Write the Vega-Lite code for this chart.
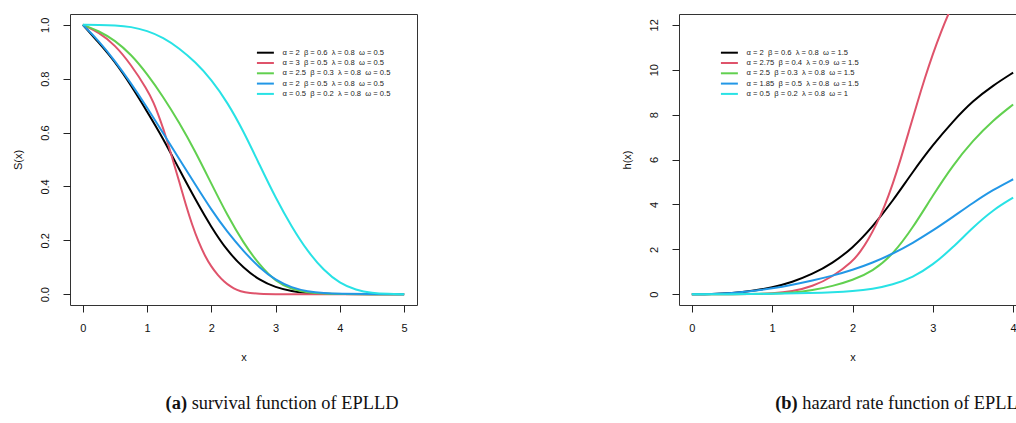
{
  "$schema": "https://vega.github.io/schema/vega-lite/v6.json",
  "background": "white",
  "padding": {"left": 11, "top": 13, "right": 0, "bottom": 0},
  "spacing": 202,
  "config": {
    "view": {"stroke": "#333333", "strokeWidth": 1},
    "axis": {
      "domain": false, "grid": false, "ticks": true, "tickColor": "#222222", "tickSize": 7, "tickWidth": 1,
      "labelFont": "Liberation Sans", "labelFontSize": 11, "labelColor": "#111111",
      "titleFont": "Liberation Sans", "titleFontSize": 11, "titleFontWeight": "normal", "titleColor": "#111111"
    },
    "axisX": {"labelPadding": 10, "titlePadding": 18},
    "axisY": {"labelAngle": -90, "labelAlign": "center", "labelBaseline": "bottom", "labelPadding": 13, "titlePadding": 16},
    "legend": {
      "orient": "none", "title": null, "symbolType": "M-3,0H3", "symbolSize": 32, "symbolStrokeWidth": 2,
      "labelFont": "Liberation Sans", "labelFontSize": 7.6, "labelColor": "#222222", "labelOffset": 13,
      "rowPadding": 2.3, "padding": 0, "labelLimit": 400
    },
    "text": {"font": "Liberation Serif", "fontSize": 18.4, "color": "#111111"}
  },
  "resolve": {"scale": {"color": "independent"}},
  "hconcat": [
    {
      "width": 347, "height": 291,
      "layer": [
        {
          "data": {"values": [
            {"s": "α = 2\u00a0\u00a0β = 0.6\u00a0\u00a0λ = 0.8\u00a0\u00a0ω = 0.5", "x": 0, "S": 1},
            {"s": "α = 2\u00a0\u00a0β = 0.6\u00a0\u00a0λ = 0.8\u00a0\u00a0ω = 0.5", "x": 0.25, "S": 0.933},
            {"s": "α = 2\u00a0\u00a0β = 0.6\u00a0\u00a0λ = 0.8\u00a0\u00a0ω = 0.5", "x": 0.5, "S": 0.863},
            {"s": "α = 2\u00a0\u00a0β = 0.6\u00a0\u00a0λ = 0.8\u00a0\u00a0ω = 0.5", "x": 0.75, "S": 0.775},
            {"s": "α = 2\u00a0\u00a0β = 0.6\u00a0\u00a0λ = 0.8\u00a0\u00a0ω = 0.5", "x": 1, "S": 0.678},
            {"s": "α = 2\u00a0\u00a0β = 0.6\u00a0\u00a0λ = 0.8\u00a0\u00a0ω = 0.5", "x": 1.25, "S": 0.578},
            {"s": "α = 2\u00a0\u00a0β = 0.6\u00a0\u00a0λ = 0.8\u00a0\u00a0ω = 0.5", "x": 1.5, "S": 0.463},
            {"s": "α = 2\u00a0\u00a0β = 0.6\u00a0\u00a0λ = 0.8\u00a0\u00a0ω = 0.5", "x": 1.75, "S": 0.352},
            {"s": "α = 2\u00a0\u00a0β = 0.6\u00a0\u00a0λ = 0.8\u00a0\u00a0ω = 0.5", "x": 2, "S": 0.248},
            {"s": "α = 2\u00a0\u00a0β = 0.6\u00a0\u00a0λ = 0.8\u00a0\u00a0ω = 0.5", "x": 2.25, "S": 0.16},
            {"s": "α = 2\u00a0\u00a0β = 0.6\u00a0\u00a0λ = 0.8\u00a0\u00a0ω = 0.5", "x": 2.5, "S": 0.097},
            {"s": "α = 2\u00a0\u00a0β = 0.6\u00a0\u00a0λ = 0.8\u00a0\u00a0ω = 0.5", "x": 2.75, "S": 0.052},
            {"s": "α = 2\u00a0\u00a0β = 0.6\u00a0\u00a0λ = 0.8\u00a0\u00a0ω = 0.5", "x": 3, "S": 0.025},
            {"s": "α = 2\u00a0\u00a0β = 0.6\u00a0\u00a0λ = 0.8\u00a0\u00a0ω = 0.5", "x": 3.25, "S": 0.011},
            {"s": "α = 2\u00a0\u00a0β = 0.6\u00a0\u00a0λ = 0.8\u00a0\u00a0ω = 0.5", "x": 3.5, "S": 0.004},
            {"s": "α = 2\u00a0\u00a0β = 0.6\u00a0\u00a0λ = 0.8\u00a0\u00a0ω = 0.5", "x": 3.75, "S": 0.0015},
            {"s": "α = 2\u00a0\u00a0β = 0.6\u00a0\u00a0λ = 0.8\u00a0\u00a0ω = 0.5", "x": 4, "S": 0.0005},
            {"s": "α = 2\u00a0\u00a0β = 0.6\u00a0\u00a0λ = 0.8\u00a0\u00a0ω = 0.5", "x": 4.5, "S": 0},
            {"s": "α = 2\u00a0\u00a0β = 0.6\u00a0\u00a0λ = 0.8\u00a0\u00a0ω = 0.5", "x": 5, "S": 0},
            {"s": "α = 3\u00a0\u00a0β = 0.5\u00a0\u00a0λ = 0.8\u00a0\u00a0ω = 0.5", "x": 0, "S": 1},
            {"s": "α = 3\u00a0\u00a0β = 0.5\u00a0\u00a0λ = 0.8\u00a0\u00a0ω = 0.5", "x": 0.25, "S": 0.972},
            {"s": "α = 3\u00a0\u00a0β = 0.5\u00a0\u00a0λ = 0.8\u00a0\u00a0ω = 0.5", "x": 0.5, "S": 0.925},
            {"s": "α = 3\u00a0\u00a0β = 0.5\u00a0\u00a0λ = 0.8\u00a0\u00a0ω = 0.5", "x": 0.75, "S": 0.852},
            {"s": "α = 3\u00a0\u00a0β = 0.5\u00a0\u00a0λ = 0.8\u00a0\u00a0ω = 0.5", "x": 1, "S": 0.76},
            {"s": "α = 3\u00a0\u00a0β = 0.5\u00a0\u00a0λ = 0.8\u00a0\u00a0ω = 0.5", "x": 1.1, "S": 0.713},
            {"s": "α = 3\u00a0\u00a0β = 0.5\u00a0\u00a0λ = 0.8\u00a0\u00a0ω = 0.5", "x": 1.2, "S": 0.65},
            {"s": "α = 3\u00a0\u00a0β = 0.5\u00a0\u00a0λ = 0.8\u00a0\u00a0ω = 0.5", "x": 1.3, "S": 0.58},
            {"s": "α = 3\u00a0\u00a0β = 0.5\u00a0\u00a0λ = 0.8\u00a0\u00a0ω = 0.5", "x": 1.4, "S": 0.498},
            {"s": "α = 3\u00a0\u00a0β = 0.5\u00a0\u00a0λ = 0.8\u00a0\u00a0ω = 0.5", "x": 1.5, "S": 0.418},
            {"s": "α = 3\u00a0\u00a0β = 0.5\u00a0\u00a0λ = 0.8\u00a0\u00a0ω = 0.5", "x": 1.6, "S": 0.333},
            {"s": "α = 3\u00a0\u00a0β = 0.5\u00a0\u00a0λ = 0.8\u00a0\u00a0ω = 0.5", "x": 1.7, "S": 0.258},
            {"s": "α = 3\u00a0\u00a0β = 0.5\u00a0\u00a0λ = 0.8\u00a0\u00a0ω = 0.5", "x": 1.8, "S": 0.194},
            {"s": "α = 3\u00a0\u00a0β = 0.5\u00a0\u00a0λ = 0.8\u00a0\u00a0ω = 0.5", "x": 1.9, "S": 0.142},
            {"s": "α = 3\u00a0\u00a0β = 0.5\u00a0\u00a0λ = 0.8\u00a0\u00a0ω = 0.5", "x": 2, "S": 0.102},
            {"s": "α = 3\u00a0\u00a0β = 0.5\u00a0\u00a0λ = 0.8\u00a0\u00a0ω = 0.5", "x": 2.1, "S": 0.071},
            {"s": "α = 3\u00a0\u00a0β = 0.5\u00a0\u00a0λ = 0.8\u00a0\u00a0ω = 0.5", "x": 2.2, "S": 0.046},
            {"s": "α = 3\u00a0\u00a0β = 0.5\u00a0\u00a0λ = 0.8\u00a0\u00a0ω = 0.5", "x": 2.3, "S": 0.028},
            {"s": "α = 3\u00a0\u00a0β = 0.5\u00a0\u00a0λ = 0.8\u00a0\u00a0ω = 0.5", "x": 2.4, "S": 0.015},
            {"s": "α = 3\u00a0\u00a0β = 0.5\u00a0\u00a0λ = 0.8\u00a0\u00a0ω = 0.5", "x": 2.5, "S": 0.007},
            {"s": "α = 3\u00a0\u00a0β = 0.5\u00a0\u00a0λ = 0.8\u00a0\u00a0ω = 0.5", "x": 2.75, "S": 0.001},
            {"s": "α = 3\u00a0\u00a0β = 0.5\u00a0\u00a0λ = 0.8\u00a0\u00a0ω = 0.5", "x": 3, "S": 0},
            {"s": "α = 3\u00a0\u00a0β = 0.5\u00a0\u00a0λ = 0.8\u00a0\u00a0ω = 0.5", "x": 4, "S": 0},
            {"s": "α = 3\u00a0\u00a0β = 0.5\u00a0\u00a0λ = 0.8\u00a0\u00a0ω = 0.5", "x": 5, "S": 0},
            {"s": "α = 2.5\u00a0\u00a0β = 0.3\u00a0\u00a0λ = 0.8\u00a0\u00a0ω = 0.5", "x": 0, "S": 1},
            {"s": "α = 2.5\u00a0\u00a0β = 0.3\u00a0\u00a0λ = 0.8\u00a0\u00a0ω = 0.5", "x": 0.25, "S": 0.977},
            {"s": "α = 2.5\u00a0\u00a0β = 0.3\u00a0\u00a0λ = 0.8\u00a0\u00a0ω = 0.5", "x": 0.5, "S": 0.942},
            {"s": "α = 2.5\u00a0\u00a0β = 0.3\u00a0\u00a0λ = 0.8\u00a0\u00a0ω = 0.5", "x": 0.75, "S": 0.89},
            {"s": "α = 2.5\u00a0\u00a0β = 0.3\u00a0\u00a0λ = 0.8\u00a0\u00a0ω = 0.5", "x": 1, "S": 0.818},
            {"s": "α = 2.5\u00a0\u00a0β = 0.3\u00a0\u00a0λ = 0.8\u00a0\u00a0ω = 0.5", "x": 1.25, "S": 0.733},
            {"s": "α = 2.5\u00a0\u00a0β = 0.3\u00a0\u00a0λ = 0.8\u00a0\u00a0ω = 0.5", "x": 1.5, "S": 0.637},
            {"s": "α = 2.5\u00a0\u00a0β = 0.3\u00a0\u00a0λ = 0.8\u00a0\u00a0ω = 0.5", "x": 1.75, "S": 0.53},
            {"s": "α = 2.5\u00a0\u00a0β = 0.3\u00a0\u00a0λ = 0.8\u00a0\u00a0ω = 0.5", "x": 2, "S": 0.41},
            {"s": "α = 2.5\u00a0\u00a0β = 0.3\u00a0\u00a0λ = 0.8\u00a0\u00a0ω = 0.5", "x": 2.25, "S": 0.292},
            {"s": "α = 2.5\u00a0\u00a0β = 0.3\u00a0\u00a0λ = 0.8\u00a0\u00a0ω = 0.5", "x": 2.5, "S": 0.19},
            {"s": "α = 2.5\u00a0\u00a0β = 0.3\u00a0\u00a0λ = 0.8\u00a0\u00a0ω = 0.5", "x": 2.75, "S": 0.108},
            {"s": "α = 2.5\u00a0\u00a0β = 0.3\u00a0\u00a0λ = 0.8\u00a0\u00a0ω = 0.5", "x": 3, "S": 0.047},
            {"s": "α = 2.5\u00a0\u00a0β = 0.3\u00a0\u00a0λ = 0.8\u00a0\u00a0ω = 0.5", "x": 3.25, "S": 0.018},
            {"s": "α = 2.5\u00a0\u00a0β = 0.3\u00a0\u00a0λ = 0.8\u00a0\u00a0ω = 0.5", "x": 3.5, "S": 0.006},
            {"s": "α = 2.5\u00a0\u00a0β = 0.3\u00a0\u00a0λ = 0.8\u00a0\u00a0ω = 0.5", "x": 3.75, "S": 0.002},
            {"s": "α = 2.5\u00a0\u00a0β = 0.3\u00a0\u00a0λ = 0.8\u00a0\u00a0ω = 0.5", "x": 4, "S": 0.0007},
            {"s": "α = 2.5\u00a0\u00a0β = 0.3\u00a0\u00a0λ = 0.8\u00a0\u00a0ω = 0.5", "x": 4.5, "S": 0},
            {"s": "α = 2.5\u00a0\u00a0β = 0.3\u00a0\u00a0λ = 0.8\u00a0\u00a0ω = 0.5", "x": 5, "S": 0},
            {"s": "α = 2\u00a0\u00a0β = 0.5\u00a0\u00a0λ = 0.8\u00a0\u00a0ω = 0.5", "x": 0, "S": 1},
            {"s": "α = 2\u00a0\u00a0β = 0.5\u00a0\u00a0λ = 0.8\u00a0\u00a0ω = 0.5", "x": 0.25, "S": 0.94},
            {"s": "α = 2\u00a0\u00a0β = 0.5\u00a0\u00a0λ = 0.8\u00a0\u00a0ω = 0.5", "x": 0.5, "S": 0.866},
            {"s": "α = 2\u00a0\u00a0β = 0.5\u00a0\u00a0λ = 0.8\u00a0\u00a0ω = 0.5", "x": 0.75, "S": 0.783},
            {"s": "α = 2\u00a0\u00a0β = 0.5\u00a0\u00a0λ = 0.8\u00a0\u00a0ω = 0.5", "x": 1, "S": 0.693},
            {"s": "α = 2\u00a0\u00a0β = 0.5\u00a0\u00a0λ = 0.8\u00a0\u00a0ω = 0.5", "x": 1.25, "S": 0.597},
            {"s": "α = 2\u00a0\u00a0β = 0.5\u00a0\u00a0λ = 0.8\u00a0\u00a0ω = 0.5", "x": 1.5, "S": 0.502},
            {"s": "α = 2\u00a0\u00a0β = 0.5\u00a0\u00a0λ = 0.8\u00a0\u00a0ω = 0.5", "x": 1.75, "S": 0.407},
            {"s": "α = 2\u00a0\u00a0β = 0.5\u00a0\u00a0λ = 0.8\u00a0\u00a0ω = 0.5", "x": 2, "S": 0.313},
            {"s": "α = 2\u00a0\u00a0β = 0.5\u00a0\u00a0λ = 0.8\u00a0\u00a0ω = 0.5", "x": 2.25, "S": 0.23},
            {"s": "α = 2\u00a0\u00a0β = 0.5\u00a0\u00a0λ = 0.8\u00a0\u00a0ω = 0.5", "x": 2.5, "S": 0.16},
            {"s": "α = 2\u00a0\u00a0β = 0.5\u00a0\u00a0λ = 0.8\u00a0\u00a0ω = 0.5", "x": 2.75, "S": 0.097},
            {"s": "α = 2\u00a0\u00a0β = 0.5\u00a0\u00a0λ = 0.8\u00a0\u00a0ω = 0.5", "x": 3, "S": 0.052},
            {"s": "α = 2\u00a0\u00a0β = 0.5\u00a0\u00a0λ = 0.8\u00a0\u00a0ω = 0.5", "x": 3.25, "S": 0.024},
            {"s": "α = 2\u00a0\u00a0β = 0.5\u00a0\u00a0λ = 0.8\u00a0\u00a0ω = 0.5", "x": 3.5, "S": 0.01},
            {"s": "α = 2\u00a0\u00a0β = 0.5\u00a0\u00a0λ = 0.8\u00a0\u00a0ω = 0.5", "x": 3.75, "S": 0.004},
            {"s": "α = 2\u00a0\u00a0β = 0.5\u00a0\u00a0λ = 0.8\u00a0\u00a0ω = 0.5", "x": 4, "S": 0.0015},
            {"s": "α = 2\u00a0\u00a0β = 0.5\u00a0\u00a0λ = 0.8\u00a0\u00a0ω = 0.5", "x": 4.5, "S": 0.0002},
            {"s": "α = 2\u00a0\u00a0β = 0.5\u00a0\u00a0λ = 0.8\u00a0\u00a0ω = 0.5", "x": 5, "S": 0},
            {"s": "α = 0.5\u00a0\u00a0β = 0.2\u00a0\u00a0λ = 0.8\u00a0\u00a0ω = 0.5", "x": 0, "S": 1},
            {"s": "α = 0.5\u00a0\u00a0β = 0.2\u00a0\u00a0λ = 0.8\u00a0\u00a0ω = 0.5", "x": 0.25, "S": 0.9995},
            {"s": "α = 0.5\u00a0\u00a0β = 0.2\u00a0\u00a0λ = 0.8\u00a0\u00a0ω = 0.5", "x": 0.5, "S": 0.998},
            {"s": "α = 0.5\u00a0\u00a0β = 0.2\u00a0\u00a0λ = 0.8\u00a0\u00a0ω = 0.5", "x": 0.75, "S": 0.993},
            {"s": "α = 0.5\u00a0\u00a0β = 0.2\u00a0\u00a0λ = 0.8\u00a0\u00a0ω = 0.5", "x": 1, "S": 0.978},
            {"s": "α = 0.5\u00a0\u00a0β = 0.2\u00a0\u00a0λ = 0.8\u00a0\u00a0ω = 0.5", "x": 1.25, "S": 0.953},
            {"s": "α = 0.5\u00a0\u00a0β = 0.2\u00a0\u00a0λ = 0.8\u00a0\u00a0ω = 0.5", "x": 1.5, "S": 0.913},
            {"s": "α = 0.5\u00a0\u00a0β = 0.2\u00a0\u00a0λ = 0.8\u00a0\u00a0ω = 0.5", "x": 1.75, "S": 0.862},
            {"s": "α = 0.5\u00a0\u00a0β = 0.2\u00a0\u00a0λ = 0.8\u00a0\u00a0ω = 0.5", "x": 2, "S": 0.797},
            {"s": "α = 0.5\u00a0\u00a0β = 0.2\u00a0\u00a0λ = 0.8\u00a0\u00a0ω = 0.5", "x": 2.25, "S": 0.712},
            {"s": "α = 0.5\u00a0\u00a0β = 0.2\u00a0\u00a0λ = 0.8\u00a0\u00a0ω = 0.5", "x": 2.5, "S": 0.605},
            {"s": "α = 0.5\u00a0\u00a0β = 0.2\u00a0\u00a0λ = 0.8\u00a0\u00a0ω = 0.5", "x": 2.75, "S": 0.48},
            {"s": "α = 0.5\u00a0\u00a0β = 0.2\u00a0\u00a0λ = 0.8\u00a0\u00a0ω = 0.5", "x": 3, "S": 0.357},
            {"s": "α = 0.5\u00a0\u00a0β = 0.2\u00a0\u00a0λ = 0.8\u00a0\u00a0ω = 0.5", "x": 3.25, "S": 0.25},
            {"s": "α = 0.5\u00a0\u00a0β = 0.2\u00a0\u00a0λ = 0.8\u00a0\u00a0ω = 0.5", "x": 3.5, "S": 0.158},
            {"s": "α = 0.5\u00a0\u00a0β = 0.2\u00a0\u00a0λ = 0.8\u00a0\u00a0ω = 0.5", "x": 3.75, "S": 0.088},
            {"s": "α = 0.5\u00a0\u00a0β = 0.2\u00a0\u00a0λ = 0.8\u00a0\u00a0ω = 0.5", "x": 4, "S": 0.04},
            {"s": "α = 0.5\u00a0\u00a0β = 0.2\u00a0\u00a0λ = 0.8\u00a0\u00a0ω = 0.5", "x": 4.25, "S": 0.015},
            {"s": "α = 0.5\u00a0\u00a0β = 0.2\u00a0\u00a0λ = 0.8\u00a0\u00a0ω = 0.5", "x": 4.5, "S": 0.004},
            {"s": "α = 0.5\u00a0\u00a0β = 0.2\u00a0\u00a0λ = 0.8\u00a0\u00a0ω = 0.5", "x": 4.75, "S": 0.001},
            {"s": "α = 0.5\u00a0\u00a0β = 0.2\u00a0\u00a0λ = 0.8\u00a0\u00a0ω = 0.5", "x": 5, "S": 0}
          ]},
          "mark": {"type": "line", "interpolate": "basis", "strokeWidth": 2, "clip": true},
          "encoding": {
            "x": {"field": "x", "type": "quantitative", "scale": {"domain": [-0.2, 5.2], "nice": false, "zero": false},
                  "axis": {"values": [0, 1, 2, 3, 4, 5], "format": "d", "title": "x"}},
            "y": {"field": "S", "type": "quantitative", "scale": {"domain": [-0.04, 1.04], "nice": false, "zero": false},
                  "axis": {"values": [0, 0.2, 0.4, 0.6, 0.8, 1], "format": ".1f", "title": "S(x)"}},
            "color": {"field": "s", "type": "nominal",
              "scale": {"domain": [
                "α = 2\u00a0\u00a0β = 0.6\u00a0\u00a0λ = 0.8\u00a0\u00a0ω = 0.5",
                "α = 3\u00a0\u00a0β = 0.5\u00a0\u00a0λ = 0.8\u00a0\u00a0ω = 0.5",
                "α = 2.5\u00a0\u00a0β = 0.3\u00a0\u00a0λ = 0.8\u00a0\u00a0ω = 0.5",
                "α = 2\u00a0\u00a0β = 0.5\u00a0\u00a0λ = 0.8\u00a0\u00a0ω = 0.5",
                "α = 0.5\u00a0\u00a0β = 0.2\u00a0\u00a0λ = 0.8\u00a0\u00a0ω = 0.5"],
                "range": ["#000000", "#DF536B", "#61D04F", "#2297E6", "#28E2E5"]},
              "legend": {"legendX": 191.4, "legendY": 34.7}}
          }
        },
        {
          "data": {"values": [{"t": "(a)"}]},
          "mark": {"type": "text", "fontWeight": "bold", "align": "left", "baseline": "alphabetic"},
          "encoding": {"x": {"datum": 1.288}, "y": {"datum": -0.4275}, "text": {"field": "t"}}
        },
        {
          "data": {"values": [{"t": "survival function of EPLLD"}]},
          "mark": {"type": "text", "align": "left", "baseline": "alphabetic"},
          "encoding": {"x": {"datum": 1.693}, "y": {"datum": -0.4275}, "text": {"field": "t"}}
        }
      ]
    },
    {
      "width": 347, "height": 291,
      "layer": [
        {
          "data": {"values": [
            {"s": "α = 2\u00a0\u00a0β = 0.6\u00a0\u00a0λ = 0.8\u00a0\u00a0ω = 1.5", "x": 0, "h": 0},
            {"s": "α = 2\u00a0\u00a0β = 0.6\u00a0\u00a0λ = 0.8\u00a0\u00a0ω = 1.5", "x": 0.25, "h": 0.01},
            {"s": "α = 2\u00a0\u00a0β = 0.6\u00a0\u00a0λ = 0.8\u00a0\u00a0ω = 1.5", "x": 0.5, "h": 0.05},
            {"s": "α = 2\u00a0\u00a0β = 0.6\u00a0\u00a0λ = 0.8\u00a0\u00a0ω = 1.5", "x": 0.75, "h": 0.14},
            {"s": "α = 2\u00a0\u00a0β = 0.6\u00a0\u00a0λ = 0.8\u00a0\u00a0ω = 1.5", "x": 1, "h": 0.3},
            {"s": "α = 2\u00a0\u00a0β = 0.6\u00a0\u00a0λ = 0.8\u00a0\u00a0ω = 1.5", "x": 1.25, "h": 0.54},
            {"s": "α = 2\u00a0\u00a0β = 0.6\u00a0\u00a0λ = 0.8\u00a0\u00a0ω = 1.5", "x": 1.5, "h": 0.89},
            {"s": "α = 2\u00a0\u00a0β = 0.6\u00a0\u00a0λ = 0.8\u00a0\u00a0ω = 1.5", "x": 1.75, "h": 1.38},
            {"s": "α = 2\u00a0\u00a0β = 0.6\u00a0\u00a0λ = 0.8\u00a0\u00a0ω = 1.5", "x": 2, "h": 2.05},
            {"s": "α = 2\u00a0\u00a0β = 0.6\u00a0\u00a0λ = 0.8\u00a0\u00a0ω = 1.5", "x": 2.25, "h": 3},
            {"s": "α = 2\u00a0\u00a0β = 0.6\u00a0\u00a0λ = 0.8\u00a0\u00a0ω = 1.5", "x": 2.5, "h": 4.15},
            {"s": "α = 2\u00a0\u00a0β = 0.6\u00a0\u00a0λ = 0.8\u00a0\u00a0ω = 1.5", "x": 2.75, "h": 5.45},
            {"s": "α = 2\u00a0\u00a0β = 0.6\u00a0\u00a0λ = 0.8\u00a0\u00a0ω = 1.5", "x": 3, "h": 6.65},
            {"s": "α = 2\u00a0\u00a0β = 0.6\u00a0\u00a0λ = 0.8\u00a0\u00a0ω = 1.5", "x": 3.25, "h": 7.7},
            {"s": "α = 2\u00a0\u00a0β = 0.6\u00a0\u00a0λ = 0.8\u00a0\u00a0ω = 1.5", "x": 3.5, "h": 8.62},
            {"s": "α = 2\u00a0\u00a0β = 0.6\u00a0\u00a0λ = 0.8\u00a0\u00a0ω = 1.5", "x": 3.75, "h": 9.3},
            {"s": "α = 2\u00a0\u00a0β = 0.6\u00a0\u00a0λ = 0.8\u00a0\u00a0ω = 1.5", "x": 4, "h": 9.87},
            {"s": "α = 2.75\u00a0\u00a0β = 0.4\u00a0\u00a0λ = 0.9\u00a0\u00a0ω = 1.5", "x": 0, "h": 0},
            {"s": "α = 2.75\u00a0\u00a0β = 0.4\u00a0\u00a0λ = 0.9\u00a0\u00a0ω = 1.5", "x": 0.5, "h": 0.002},
            {"s": "α = 2.75\u00a0\u00a0β = 0.4\u00a0\u00a0λ = 0.9\u00a0\u00a0ω = 1.5", "x": 0.75, "h": 0.008},
            {"s": "α = 2.75\u00a0\u00a0β = 0.4\u00a0\u00a0λ = 0.9\u00a0\u00a0ω = 1.5", "x": 1, "h": 0.03},
            {"s": "α = 2.75\u00a0\u00a0β = 0.4\u00a0\u00a0λ = 0.9\u00a0\u00a0ω = 1.5", "x": 1.25, "h": 0.12},
            {"s": "α = 2.75\u00a0\u00a0β = 0.4\u00a0\u00a0λ = 0.9\u00a0\u00a0ω = 1.5", "x": 1.5, "h": 0.34},
            {"s": "α = 2.75\u00a0\u00a0β = 0.4\u00a0\u00a0λ = 0.9\u00a0\u00a0ω = 1.5", "x": 1.75, "h": 0.77},
            {"s": "α = 2.75\u00a0\u00a0β = 0.4\u00a0\u00a0λ = 0.9\u00a0\u00a0ω = 1.5", "x": 2, "h": 1.45},
            {"s": "α = 2.75\u00a0\u00a0β = 0.4\u00a0\u00a0λ = 0.9\u00a0\u00a0ω = 1.5", "x": 2.1, "h": 1.9},
            {"s": "α = 2.75\u00a0\u00a0β = 0.4\u00a0\u00a0λ = 0.9\u00a0\u00a0ω = 1.5", "x": 2.2, "h": 2.45},
            {"s": "α = 2.75\u00a0\u00a0β = 0.4\u00a0\u00a0λ = 0.9\u00a0\u00a0ω = 1.5", "x": 2.3, "h": 3.12},
            {"s": "α = 2.75\u00a0\u00a0β = 0.4\u00a0\u00a0λ = 0.9\u00a0\u00a0ω = 1.5", "x": 2.4, "h": 3.92},
            {"s": "α = 2.75\u00a0\u00a0β = 0.4\u00a0\u00a0λ = 0.9\u00a0\u00a0ω = 1.5", "x": 2.5, "h": 4.89},
            {"s": "α = 2.75\u00a0\u00a0β = 0.4\u00a0\u00a0λ = 0.9\u00a0\u00a0ω = 1.5", "x": 2.6, "h": 6.01},
            {"s": "α = 2.75\u00a0\u00a0β = 0.4\u00a0\u00a0λ = 0.9\u00a0\u00a0ω = 1.5", "x": 2.7, "h": 7.23},
            {"s": "α = 2.75\u00a0\u00a0β = 0.4\u00a0\u00a0λ = 0.9\u00a0\u00a0ω = 1.5", "x": 2.8, "h": 8.45},
            {"s": "α = 2.75\u00a0\u00a0β = 0.4\u00a0\u00a0λ = 0.9\u00a0\u00a0ω = 1.5", "x": 2.9, "h": 9.62},
            {"s": "α = 2.75\u00a0\u00a0β = 0.4\u00a0\u00a0λ = 0.9\u00a0\u00a0ω = 1.5", "x": 3, "h": 10.7},
            {"s": "α = 2.75\u00a0\u00a0β = 0.4\u00a0\u00a0λ = 0.9\u00a0\u00a0ω = 1.5", "x": 3.1, "h": 11.67},
            {"s": "α = 2.75\u00a0\u00a0β = 0.4\u00a0\u00a0λ = 0.9\u00a0\u00a0ω = 1.5", "x": 3.2, "h": 12.54},
            {"s": "α = 2.75\u00a0\u00a0β = 0.4\u00a0\u00a0λ = 0.9\u00a0\u00a0ω = 1.5", "x": 3.3, "h": 13.32},
            {"s": "α = 2.5\u00a0\u00a0β = 0.3\u00a0\u00a0λ = 0.8\u00a0\u00a0ω = 1.5", "x": 0, "h": 0},
            {"s": "α = 2.5\u00a0\u00a0β = 0.3\u00a0\u00a0λ = 0.8\u00a0\u00a0ω = 1.5", "x": 0.5, "h": 0.001},
            {"s": "α = 2.5\u00a0\u00a0β = 0.3\u00a0\u00a0λ = 0.8\u00a0\u00a0ω = 1.5", "x": 1, "h": 0.02},
            {"s": "α = 2.5\u00a0\u00a0β = 0.3\u00a0\u00a0λ = 0.8\u00a0\u00a0ω = 1.5", "x": 1.25, "h": 0.06},
            {"s": "α = 2.5\u00a0\u00a0β = 0.3\u00a0\u00a0λ = 0.8\u00a0\u00a0ω = 1.5", "x": 1.5, "h": 0.17},
            {"s": "α = 2.5\u00a0\u00a0β = 0.3\u00a0\u00a0λ = 0.8\u00a0\u00a0ω = 1.5", "x": 1.75, "h": 0.36},
            {"s": "α = 2.5\u00a0\u00a0β = 0.3\u00a0\u00a0λ = 0.8\u00a0\u00a0ω = 1.5", "x": 2, "h": 0.62},
            {"s": "α = 2.5\u00a0\u00a0β = 0.3\u00a0\u00a0λ = 0.8\u00a0\u00a0ω = 1.5", "x": 2.25, "h": 1.02},
            {"s": "α = 2.5\u00a0\u00a0β = 0.3\u00a0\u00a0λ = 0.8\u00a0\u00a0ω = 1.5", "x": 2.5, "h": 1.75},
            {"s": "α = 2.5\u00a0\u00a0β = 0.3\u00a0\u00a0λ = 0.8\u00a0\u00a0ω = 1.5", "x": 2.75, "h": 2.95},
            {"s": "α = 2.5\u00a0\u00a0β = 0.3\u00a0\u00a0λ = 0.8\u00a0\u00a0ω = 1.5", "x": 3, "h": 4.4},
            {"s": "α = 2.5\u00a0\u00a0β = 0.3\u00a0\u00a0λ = 0.8\u00a0\u00a0ω = 1.5", "x": 3.25, "h": 5.75},
            {"s": "α = 2.5\u00a0\u00a0β = 0.3\u00a0\u00a0λ = 0.8\u00a0\u00a0ω = 1.5", "x": 3.5, "h": 6.85},
            {"s": "α = 2.5\u00a0\u00a0β = 0.3\u00a0\u00a0λ = 0.8\u00a0\u00a0ω = 1.5", "x": 3.75, "h": 7.75},
            {"s": "α = 2.5\u00a0\u00a0β = 0.3\u00a0\u00a0λ = 0.8\u00a0\u00a0ω = 1.5", "x": 4, "h": 8.45},
            {"s": "α = 1.85\u00a0\u00a0β = 0.5\u00a0\u00a0λ = 0.8\u00a0\u00a0ω = 1.5", "x": 0, "h": 0},
            {"s": "α = 1.85\u00a0\u00a0β = 0.5\u00a0\u00a0λ = 0.8\u00a0\u00a0ω = 1.5", "x": 0.25, "h": 0.01},
            {"s": "α = 1.85\u00a0\u00a0β = 0.5\u00a0\u00a0λ = 0.8\u00a0\u00a0ω = 1.5", "x": 0.5, "h": 0.05},
            {"s": "α = 1.85\u00a0\u00a0β = 0.5\u00a0\u00a0λ = 0.8\u00a0\u00a0ω = 1.5", "x": 0.75, "h": 0.13},
            {"s": "α = 1.85\u00a0\u00a0β = 0.5\u00a0\u00a0λ = 0.8\u00a0\u00a0ω = 1.5", "x": 1, "h": 0.26},
            {"s": "α = 1.85\u00a0\u00a0β = 0.5\u00a0\u00a0λ = 0.8\u00a0\u00a0ω = 1.5", "x": 1.25, "h": 0.42},
            {"s": "α = 1.85\u00a0\u00a0β = 0.5\u00a0\u00a0λ = 0.8\u00a0\u00a0ω = 1.5", "x": 1.5, "h": 0.61},
            {"s": "α = 1.85\u00a0\u00a0β = 0.5\u00a0\u00a0λ = 0.8\u00a0\u00a0ω = 1.5", "x": 1.75, "h": 0.82},
            {"s": "α = 1.85\u00a0\u00a0β = 0.5\u00a0\u00a0λ = 0.8\u00a0\u00a0ω = 1.5", "x": 2, "h": 1.08},
            {"s": "α = 1.85\u00a0\u00a0β = 0.5\u00a0\u00a0λ = 0.8\u00a0\u00a0ω = 1.5", "x": 2.25, "h": 1.4},
            {"s": "α = 1.85\u00a0\u00a0β = 0.5\u00a0\u00a0λ = 0.8\u00a0\u00a0ω = 1.5", "x": 2.5, "h": 1.8},
            {"s": "α = 1.85\u00a0\u00a0β = 0.5\u00a0\u00a0λ = 0.8\u00a0\u00a0ω = 1.5", "x": 2.75, "h": 2.28},
            {"s": "α = 1.85\u00a0\u00a0β = 0.5\u00a0\u00a0λ = 0.8\u00a0\u00a0ω = 1.5", "x": 3, "h": 2.83},
            {"s": "α = 1.85\u00a0\u00a0β = 0.5\u00a0\u00a0λ = 0.8\u00a0\u00a0ω = 1.5", "x": 3.25, "h": 3.44},
            {"s": "α = 1.85\u00a0\u00a0β = 0.5\u00a0\u00a0λ = 0.8\u00a0\u00a0ω = 1.5", "x": 3.5, "h": 4.07},
            {"s": "α = 1.85\u00a0\u00a0β = 0.5\u00a0\u00a0λ = 0.8\u00a0\u00a0ω = 1.5", "x": 3.75, "h": 4.65},
            {"s": "α = 1.85\u00a0\u00a0β = 0.5\u00a0\u00a0λ = 0.8\u00a0\u00a0ω = 1.5", "x": 4, "h": 5.12},
            {"s": "α = 0.5\u00a0\u00a0β = 0.2\u00a0\u00a0λ = 0.8\u00a0\u00a0ω = 1", "x": 0, "h": 0},
            {"s": "α = 0.5\u00a0\u00a0β = 0.2\u00a0\u00a0λ = 0.8\u00a0\u00a0ω = 1", "x": 0.5, "h": 0.002},
            {"s": "α = 0.5\u00a0\u00a0β = 0.2\u00a0\u00a0λ = 0.8\u00a0\u00a0ω = 1", "x": 1, "h": 0.015},
            {"s": "α = 0.5\u00a0\u00a0β = 0.2\u00a0\u00a0λ = 0.8\u00a0\u00a0ω = 1", "x": 1.5, "h": 0.05},
            {"s": "α = 0.5\u00a0\u00a0β = 0.2\u00a0\u00a0λ = 0.8\u00a0\u00a0ω = 1", "x": 1.75, "h": 0.08},
            {"s": "α = 0.5\u00a0\u00a0β = 0.2\u00a0\u00a0λ = 0.8\u00a0\u00a0ω = 1", "x": 2, "h": 0.13},
            {"s": "α = 0.5\u00a0\u00a0β = 0.2\u00a0\u00a0λ = 0.8\u00a0\u00a0ω = 1", "x": 2.25, "h": 0.23},
            {"s": "α = 0.5\u00a0\u00a0β = 0.2\u00a0\u00a0λ = 0.8\u00a0\u00a0ω = 1", "x": 2.5, "h": 0.42},
            {"s": "α = 0.5\u00a0\u00a0β = 0.2\u00a0\u00a0λ = 0.8\u00a0\u00a0ω = 1", "x": 2.75, "h": 0.75},
            {"s": "α = 0.5\u00a0\u00a0β = 0.2\u00a0\u00a0λ = 0.8\u00a0\u00a0ω = 1", "x": 3, "h": 1.3},
            {"s": "α = 0.5\u00a0\u00a0β = 0.2\u00a0\u00a0λ = 0.8\u00a0\u00a0ω = 1", "x": 3.25, "h": 2.08},
            {"s": "α = 0.5\u00a0\u00a0β = 0.2\u00a0\u00a0λ = 0.8\u00a0\u00a0ω = 1", "x": 3.5, "h": 2.98},
            {"s": "α = 0.5\u00a0\u00a0β = 0.2\u00a0\u00a0λ = 0.8\u00a0\u00a0ω = 1", "x": 3.75, "h": 3.76},
            {"s": "α = 0.5\u00a0\u00a0β = 0.2\u00a0\u00a0λ = 0.8\u00a0\u00a0ω = 1", "x": 4, "h": 4.3}
          ]},
          "mark": {"type": "line", "interpolate": "basis", "strokeWidth": 2, "clip": true},
          "encoding": {
            "x": {"field": "x", "type": "quantitative", "scale": {"domain": [-0.16, 4.16], "nice": false, "zero": false},
                  "axis": {"values": [0, 1, 2, 3, 4], "format": "d", "title": "x"}},
            "y": {"field": "h", "type": "quantitative", "scale": {"domain": [-0.48, 12.48], "nice": false, "zero": false},
                  "axis": {"values": [0, 2, 4, 6, 8, 10, 12], "format": "d", "title": "h(x)"}},
            "color": {"field": "s", "type": "nominal",
              "scale": {"domain": [
                "α = 2\u00a0\u00a0β = 0.6\u00a0\u00a0λ = 0.8\u00a0\u00a0ω = 1.5",
                "α = 2.75\u00a0\u00a0β = 0.4\u00a0\u00a0λ = 0.9\u00a0\u00a0ω = 1.5",
                "α = 2.5\u00a0\u00a0β = 0.3\u00a0\u00a0λ = 0.8\u00a0\u00a0ω = 1.5",
                "α = 1.85\u00a0\u00a0β = 0.5\u00a0\u00a0λ = 0.8\u00a0\u00a0ω = 1.5",
                "α = 0.5\u00a0\u00a0β = 0.2\u00a0\u00a0λ = 0.8\u00a0\u00a0ω = 1"],
                "range": ["#000000", "#DF536B", "#61D04F", "#2297E6", "#28E2E5"]},
              "legend": {"legendX": 46.4, "legendY": 34.7}}
          }
        },
        {
          "data": {"values": [{"t": "(b)"}]},
          "mark": {"type": "text", "fontWeight": "bold", "align": "left", "baseline": "alphabetic"},
          "encoding": {"x": {"datum": 1.037}, "y": {"datum": -5.13}, "text": {"field": "t"}}
        },
        {
          "data": {"values": [{"t": "hazard rate function of EPLLD"}]},
          "mark": {"type": "text", "align": "left", "baseline": "alphabetic"},
          "encoding": {"x": {"datum": 1.375}, "y": {"datum": -5.13}, "text": {"field": "t"}}
        }
      ]
    }
  ]
}
